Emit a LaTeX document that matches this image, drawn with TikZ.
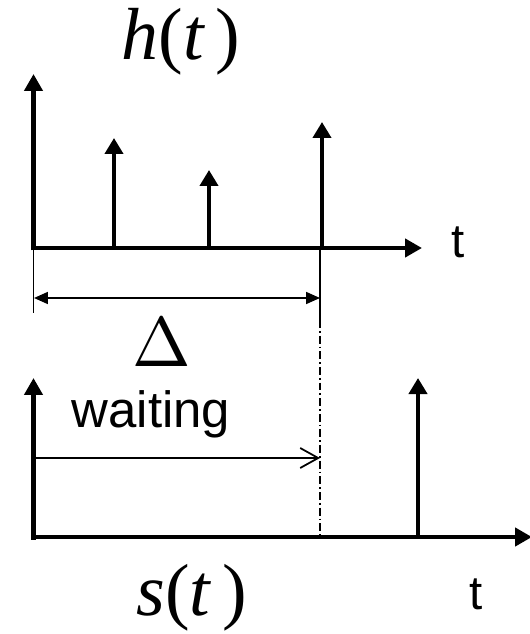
\documentclass[tikz,border=0pt]{standalone}
\usepackage{fontspec}
\usepackage{tikz}
\usetikzlibrary{arrows.meta}
\newfontfamily\tmsfont{Liberation Serif}
\newfontfamily\arlfont{Liberation Sans}

\begin{document}
\begin{tikzpicture}[x=0.02cm,y=-0.02cm,
  axis/.style={line width=2.6pt,-{Triangle[length=0.34cm,width=0.36cm]}},
  spike/.style={line width=2.6pt,-{Triangle[length=0.32cm,width=0.36cm]}},
  thinline/.style={line width=1pt},
  bigsym/.style={font=\fontsize{42}{46}\selectfont\tmsfont,inner sep=0pt},
  axlabel/.style={font=\fontsize{27}{30}\selectfont\arlfont}]
\useasboundingbox (0,0) rectangle (529,634);
% top plot: h(t)
\coordinate (ho) at (33.5,248);
\draw[axis] (33.5,250.5)--(33.5,74);
\draw[axis] (31,248)--(422,248);
\draw[spike] (114,248)--(114,138);
\draw[spike] (209,248)--(209,170);
\draw[spike] (322,248)--(322,122);
\node[bigsym] (hlab) at (181,42) {\itshape h\upshape(\itshape t\,\upshape)};
\node[axlabel] (ttop) at (458,242) {t};
% delay
\draw[thinline] (33.5,248)--(33.5,313);
\draw[thinline] (320,248)--(320,320);
\draw[thinline,{Triangle[length=0.28cm,width=0.24cm]}-{Triangle[length=0.28cm,width=0.24cm]}] (34,298)--(320,298);
\node (dlab) at (162,342) {\scalebox{4}{$\Delta$}};
\draw[thinline,dash pattern=on 4.5pt off 1.7pt on 1pt off 1.7pt] (320,320)--(320,535);
% bottom plot: s(t)
\draw[axis] (33.5,539.5)--(33.5,378);
\draw[axis] (31,537)--(532,537);
\draw[spike] (418,537)--(418,378);
\draw[thinline,-{Straight Barb[length=0.36cm,width=0.4cm]}] (36,458)--(320,458);
\node[font=\fontsize{29}{33}\selectfont\arlfont] (wlab) at (151,414) {waiting};
\node[bigsym] (slab) at (192,598) {\itshape s\upshape(\itshape t\,\upshape)};
\node[axlabel] (tbot) at (476,594) {t};
\end{tikzpicture}
\end{document}
